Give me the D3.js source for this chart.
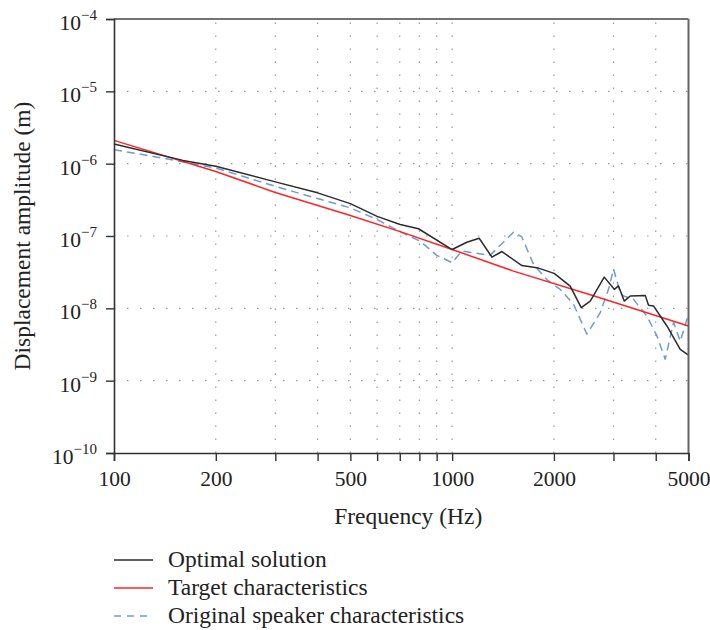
<!DOCTYPE html>
<html>
<head>
<meta charset="utf-8">
<script src="https://cdn.jsdelivr.net/npm/d3@7"></script>
<style>
  html, body { margin: 0; padding: 0; background: #fff; }
  svg { display: block; }
  text { font-family: "Liberation Serif", "Times New Roman", serif; fill: #222; }
</style>
</head>
<body>
<svg id="chart" width="710" height="630"></svg>
<script>
// ---- Data ----
const freqOptimal = [100,160,200,300,400,500,600,702,795,1000,1105,1202,1311,1403,1608,1800,2003,2234,2408,2561,2817,3016,3105,3228,3363,3724,3809,3940,4317,4727,5000];
const ampOptimal  = [1.87e-6,1.11e-6,9.2e-7,5.6e-7,3.95e-7,2.8e-7,1.87e-7,1.44e-7,1.26e-7,6.5e-8,8.2e-8,9.3e-8,5.1e-8,6.1e-8,3.9e-8,3.6e-8,3.04e-8,2.03e-8,1.02e-8,1.26e-8,2.7e-8,1.83e-8,2.04e-8,1.26e-8,1.48e-8,1.51e-8,1.1e-8,1.08e-8,5.7e-9,2.7e-9,2.25e-9];

const freqTarget = [100,200,300,500,702,1000,1519,2590,5000];
const ampTarget  = [2.1e-6,7.8e-7,4.0e-7,1.92e-7,1.15e-7,6.5e-8,3.27e-8,1.52e-8,5.7e-9];

const freqOriginal = [100,143,200,300,400,500,600,702,804,901,1000,1068,1295,1519,1608,1740,1906,2087,2285,2503,2741,2900,3001,3141,3213,3439,3767,4033,4267,4516,4727,5000];
const ampOriginal  = [1.56e-6,1.17e-6,8.7e-7,4.86e-7,3.29e-7,2.45e-7,1.69e-7,1.14e-7,8.5e-8,5.4e-8,4.27e-8,6.2e-8,5.4e-8,1.13e-7,9.7e-8,4.05e-8,2.5e-8,1.83e-8,1.14e-8,4.4e-9,8.7e-9,1.83e-8,3.5e-8,1.64e-8,1.48e-8,1.33e-8,7.8e-9,4.15e-9,1.98e-9,6.4e-9,3.5e-9,8.3e-9];

const xTicks = [100,200,300,400,500,600,700,800,900,1000,2000,3000,4000,5000];
const xTickLabels = [100,200,500,1000,2000,5000];
const xGrid = [200,300,400,500,600,700,800,900,1000,2000,3000,4000];
const yTickExponents = [-4,-5,-6,-7,-8,-9,-10];
const yGridExponents = [-5,-6,-7,-8,-9];

const seriesNames = ["Optimal solution","Target characteristics","Original speaker characteristics"];
const seriesColors = ["#2b2b2b","#ff2424","#6f9bd4"];
const seriesDash = [null, null, "8,5"];

// ---- Layout ----
const mLeft = 114, mRight = 688.5, mTop = 19, mBottom = 453;
const FONT = "Liberation Serif, Times New Roman, serif";
const svg = d3.select("#chart");

const x = d3.scaleLog().domain([100,5000]).range([mLeft,mRight]);
const y = d3.scaleLog().domain([1e-10,1e-4]).range([mBottom,mTop]);

// Grid
const grid = svg.append("g").attr("stroke","#9a9a9a").attr("stroke-width",1.2).attr("stroke-dasharray","1.5,11.5");
grid.selectAll("line.v").data(xGrid).enter().append("line")
  .attr("x1",d=>x(d)).attr("x2",d=>x(d)).attr("y1",mBottom).attr("y2",mTop);
grid.selectAll("line.h").data(yGridExponents).enter().append("line")
  .attr("y1",d=>y(Math.pow(10,d))).attr("y2",d=>y(Math.pow(10,d))).attr("x1",mLeft).attr("x2",mRight);

// Lines
const line = d3.line().x(d=>x(d[0])).y(d=>y(d[1]));
const seriesData = [
  d3.zip(freqOptimal, ampOptimal),
  d3.zip(freqTarget, ampTarget),
  d3.zip(freqOriginal, ampOriginal)
];
const drawOrder = [2,1,0];
drawOrder.forEach(i => {
  svg.append("path").datum(seriesData[i])
    .attr("fill","none").attr("stroke",seriesColors[i]).attr("stroke-width",1.5)
    .attr("stroke-linejoin","round")
    .attr("stroke-dasharray",seriesDash[i])
    .attr("d",line);
});

// Frame (top/right)
svg.append("line").attr("x1",mLeft).attr("x2",mRight).attr("y1",mTop).attr("y2",mTop).attr("stroke","#444").attr("stroke-width",1.6);
svg.append("line").attr("x1",mRight).attr("x2",mRight).attr("y1",mTop).attr("y2",mBottom).attr("stroke","#666").attr("stroke-width",2);

// X axis
const xAxis = d3.axisBottom(x).tickValues(xTicks).tickSize(8).tickPadding(10)
  .tickFormat(d => xTickLabels.includes(d) ? String(d) : "");
const gx = svg.append("g").attr("transform",`translate(0,${mBottom})`).call(xAxis);
gx.attr("font-family",FONT);
gx.select(".domain").attr("stroke","#333").attr("stroke-width",1.6);
gx.selectAll(".tick line").attr("stroke","#333").attr("stroke-width",1.4);
gx.selectAll(".tick text").attr("font-size",21.5).attr("font-family",FONT).attr("fill","#222");

// Y axis
const yAxis = d3.axisLeft(y).tickValues(yTickExponents.map(e=>Math.pow(10,e))).tickSize(8).tickFormat("");
const gy = svg.append("g").attr("transform",`translate(${mLeft},0)`).call(yAxis);
gy.select(".domain").attr("stroke","#333").attr("stroke-width",1.6);
gy.selectAll(".tick line").attr("stroke","#333").attr("stroke-width",1.4);

const yl = svg.append("g").attr("font-family",FONT);
yTickExponents.forEach(e => {
  const t = yl.append("text").attr("x",97).attr("y",y(Math.pow(10,e))+11).attr("text-anchor","end").attr("font-size",21.5);
  t.append("tspan").text("10");
  t.append("tspan").attr("dy",-10).attr("font-size",15).text("\u2212" + Math.abs(e));
});

// Axis titles
svg.append("text").attr("x",(mLeft+mRight)/2 + 7).attr("y",524).attr("text-anchor","middle")
  .attr("font-family",FONT).attr("font-size",23.5).text("Frequency (Hz)");
svg.append("text").attr("transform",`translate(30,${(mTop+mBottom)/2}) rotate(-90)`).attr("text-anchor","middle")
  .attr("font-family",FONT).attr("font-size",23.5).text("Displacement amplitude (m)");

// Legend
const legendY = [560, 588, 616];
seriesNames.forEach((n,i) => {
  svg.append("line").attr("x1",114).attr("x2",153).attr("y1",legendY[i]).attr("y2",legendY[i])
    .attr("stroke",seriesColors[i]).attr("stroke-width",1.5).attr("stroke-dasharray",i===2?"7,6":null);
  svg.append("text").attr("x",168).attr("y",legendY[i]+7).attr("font-family",FONT).attr("font-size",23.5).text(n);
});
</script>
</body>
</html>
